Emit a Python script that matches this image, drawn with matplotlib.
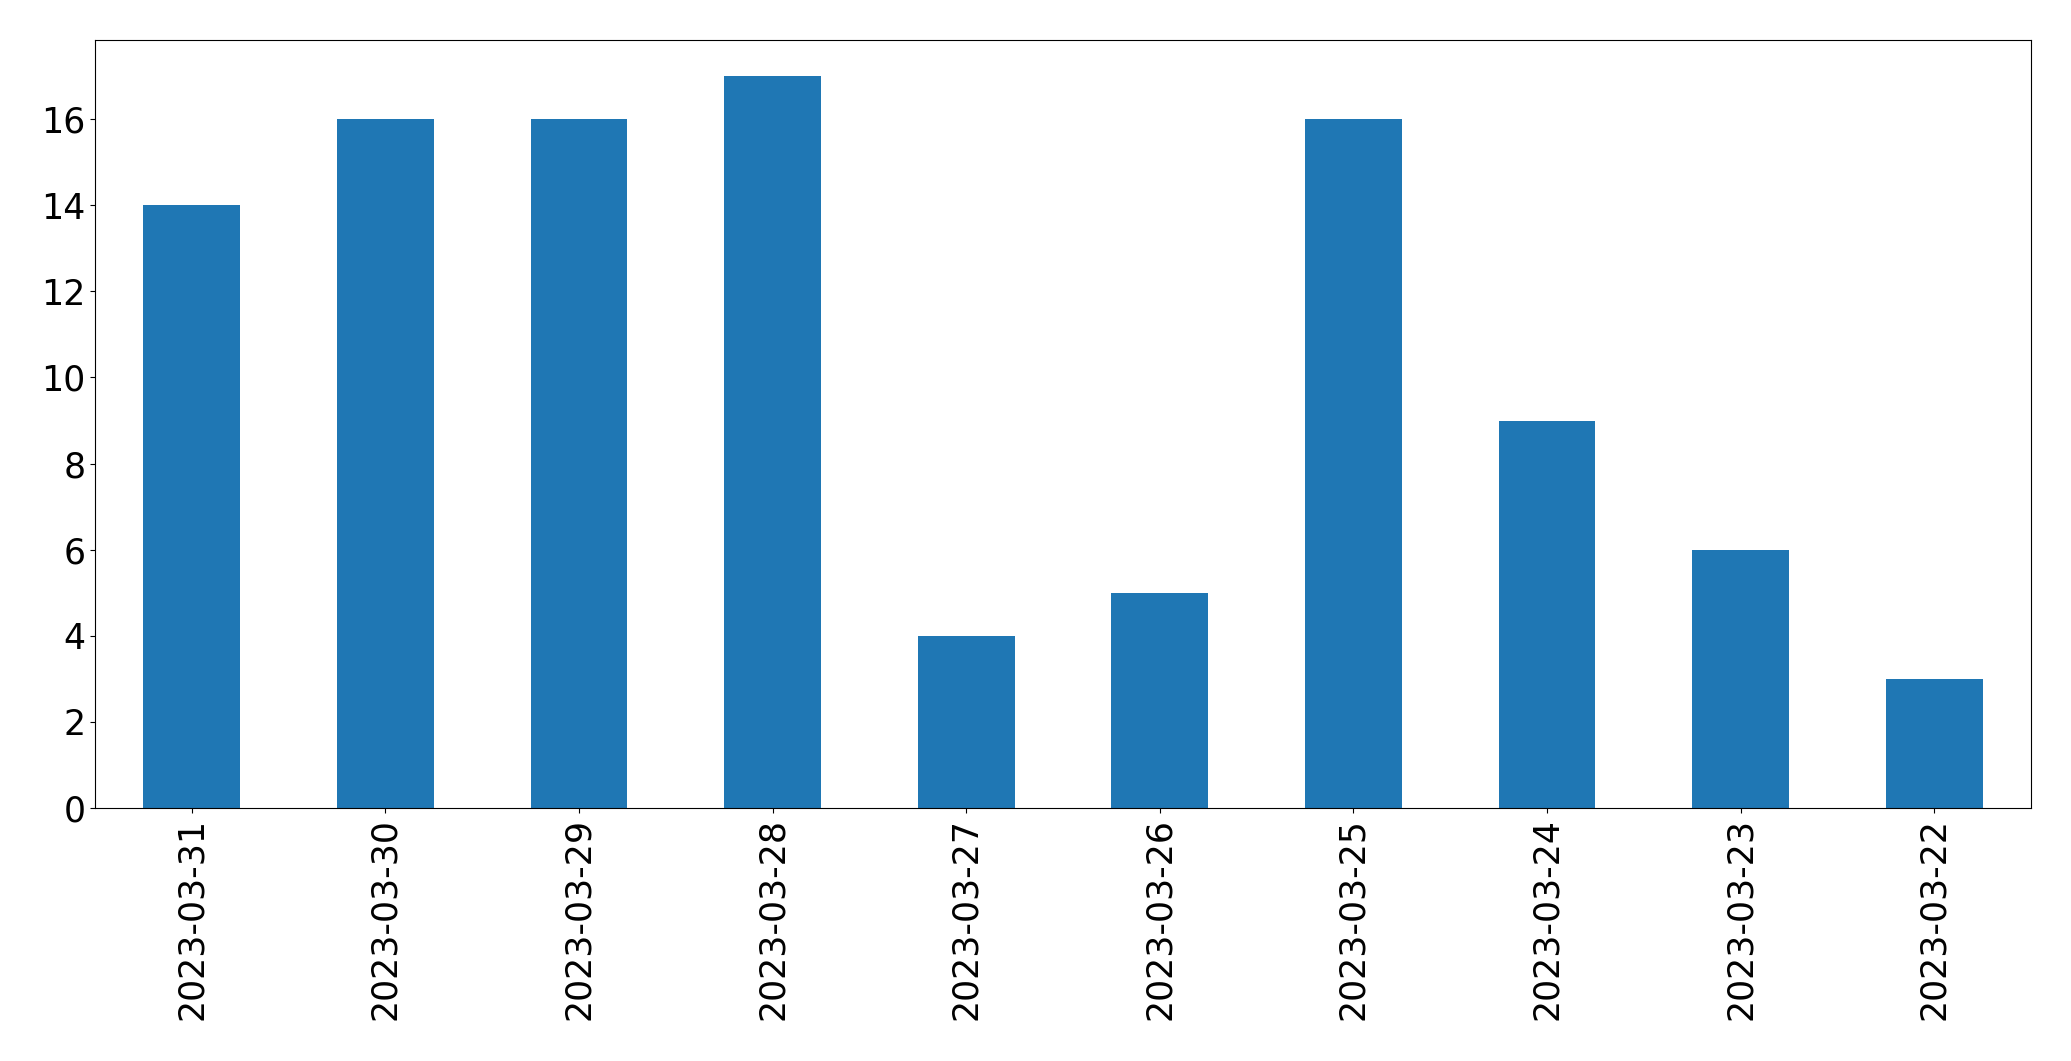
import matplotlib
matplotlib.use("Agg")
import matplotlib.pyplot as plt
import pandas as pd

dates = ['2023-03-31', '2023-03-30', '2023-03-29', '2023-03-28', '2023-03-27',
         '2023-03-26', '2023-03-25', '2023-03-24', '2023-03-23', '2023-03-22']
counts = [14, 16, 16, 17, 4, 5, 16, 9, 6, 3]

s = pd.Series(counts, index=dates)

fig = plt.figure(figsize=(20.71, 10.61), dpi=100)
ax = fig.add_axes([0.0459, 0.2385, 0.9348, 0.7242])
s.plot(kind='bar', ax=ax, color='#1f77b4', width=0.5)
ax.tick_params(axis='both', labelsize=25)
plt.setp(ax.get_xticklabels(), rotation=90)

fig.savefig('out.png', dpi=100)
